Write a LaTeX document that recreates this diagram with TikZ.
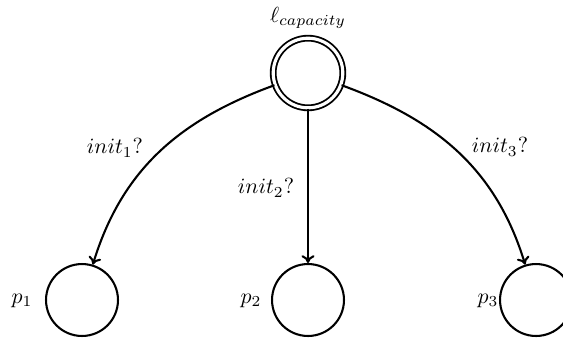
\documentclass[tikz,border=0pt]{standalone}
\usetikzlibrary{arrows.meta}
\begin{document}
\begin{tikzpicture}[x=0.385pt,y=-0.385pt,
  loc/.style={circle,draw,line width=0.8pt,minimum size=27.7pt,inner sep=0pt},
  initloc/.style={circle,draw,line width=0.7pt,double,double distance=1.2pt,minimum size=26.8pt,inner sep=0pt},
  edge/.style={line width=0.8pt,-{To[length=3pt,width=5pt]}},
  lbl/.style={inner sep=1pt,scale=0.84}]
\useasboundingbox (0,0) rectangle (563,340);
\clip (0,0) rectangle (563,340);
\node[initloc] (top) at (308,73) {};
\node[lbl] (ltop) at (308,18) {$\ell_{capacity}$};
\node[loc] (p1) at (82,300) {};
\node[loc] (p2) at (308,300) {};
\node[loc] (p3) at (536,300) {};
\node[lbl] (l1) at (22,301) {$p_1$};
\node[lbl] (l2) at (251,301) {$p_2$};
\node[lbl] (l3) at (488,301) {$p_3$};
\draw[edge] (top) to[out=200,in=73] (p1);
\draw[edge] (top) -- (p2);
\draw[edge] (top) to[out=-20,in=107] (p3);
\node[lbl] (t1) at (115,148) {$init_1?$};
\node[lbl] (t2) at (266,188) {$init_2?$};
\node[lbl] (t3) at (500,147) {$init_3?$};
\end{tikzpicture}
\end{document}
